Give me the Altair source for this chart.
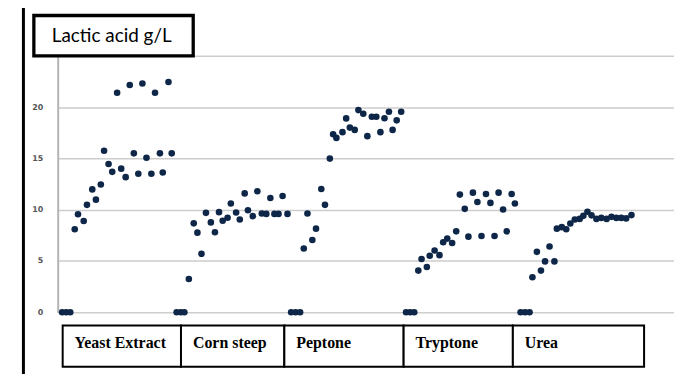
import altair as alt
import pandas as pd

# ---- data (x = sample position, y = lactic acid g/L) ----
groups = ["Yeast Extract", "Corn steep", "Peptone", "Tryptone", "Urea"]

yeast_pos = [0.1, 1.1, 2.1, 3.2, 4.0, 5.4, 6.2, 7.5, 8.4, 9.6, 10.4, 11.5, 12.4, 13.6,
             14.6, 15.7, 16.7, 17.7, 18.8, 19.8, 20.8, 22.0, 22.9, 24.1, 24.8, 26.2, 27.0]
yeast_val = [0, 0, 0, 8.1, 9.56, 8.89, 10.47, 11.98, 10.98, 12.46, 15.75, 14.46, 13.69, 21.4,
             14.0, 13.17, 22.16, 15.49, 13.5, 22.3, 15.07, 13.5, 21.4, 15.49, 13.62, 22.45, 15.49]

corn_pos = [28.2, 29.2, 30.1, 31.2, 32.4, 33.3, 34.3, 35.4, 36.6, 37.6, 38.6, 39.5, 40.7, 41.5,
            42.8, 43.7, 44.9, 45.7, 46.9, 48.0, 49.1, 50.2, 51.2, 52.2, 53.2, 54.2, 55.4]
corn_val = [0, 0, 0, 3.25, 8.67, 7.76, 5.70, 9.69, 8.76, 7.8, 9.76, 8.92, 9.21, 10.6,
            9.73, 9.05, 11.59, 9.95, 9.37, 11.79, 9.63, 9.59, 11.14, 9.59, 9.59, 11.33, 9.59]

peptone_pos = [56.3, 57.4, 58.5, 59.4, 60.3, 61.5, 62.4, 63.7, 64.6, 65.8, 66.6, 67.4, 68.9, 69.8,
               70.7, 71.9, 72.8, 74.0, 75.0, 76.1, 77.2, 78.2, 79.2, 80.3, 81.2, 82.2, 83.3]
peptone_val = [0, 0, 0, 6.21, 9.63, 7.05, 8.15, 12.01, 10.47, 14.98, 17.36, 17.0, 17.56, 18.9,
               18.0, 17.78, 19.71, 19.35, 17.17, 19.06, 19.06, 17.56, 18.91, 19.55, 17.78, 18.71, 19.55]

tryptone_pos = [84.5, 85.5, 86.5, 87.5, 88.3, 89.6, 90.3, 91.5, 92.7, 93.6, 94.6, 95.8, 96.8, 97.7,
                98.9, 99.8, 100.9, 102.0, 103.0, 104.1, 105.2, 106.2, 107.2, 108.3, 109.2, 110.4, 111.2]
tryptone_val = [0, 0, 0, 4.06, 5.19, 4.42, 5.51, 6.02, 5.57, 6.83, 7.18, 6.76, 7.89, 11.47,
                10.08, 7.37, 11.66, 10.75, 7.44, 11.53, 10.66, 7.44, 11.66, 10.02, 7.89, 11.53, 10.6]

urea_pos = [112.6, 113.7, 114.8, 115.5, 116.6, 117.6, 118.6, 119.7, 120.9, 121.5, 122.7, 123.8, 124.8,
            125.9, 127.1, 128.0, 129.0, 130.0, 131.2, 132.4, 133.7, 134.9, 136.1, 137.3, 138.5, 139.8]
urea_val = [0, 0, 0, 3.41, 5.89, 4.06, 4.96, 6.41, 4.96, 8.15, 8.3, 8.1, 8.65,
            9.05, 9.1, 9.4, 9.8, 9.45, 9.1, 9.2, 9.1, 9.3, 9.2, 9.2, 9.15, 9.47]

y_ticks = [0, 5, 10, 15, 20, 25]

# table below the plot: cell boundaries in sample-position units
cell_start = [0.24, 29.27, 54.63, 83.9, 110.7]
cell_end = [29.27, 54.63, 83.9, 110.7, 142.9]

title_text = "Lactic acid g/L"

# ---- build tables ----
rows = []
for g, ps, vs in zip(groups,
                     [yeast_pos, corn_pos, peptone_pos, tryptone_pos, urea_pos],
                     [yeast_val, corn_val, peptone_val, tryptone_val, urea_val]):
    for p, v in zip(ps, vs):
        rows.append({"group": g, "pos": p, "lactic": v})
df = pd.DataFrame(rows)

table_df = pd.DataFrame({"label": groups, "x": cell_start, "x2": cell_end,
                         "y": [-1.3] * 5, "y2": [-5.3] * 5, "ty": [-2.95] * 5})
box_df = pd.DataFrame({"x": [-6.83], "x2": [32.27], "y": [28.93], "y2": [25.0],
                       "tx": [-2.45], "ty": [26.94], "label": [title_text]})
edge_df = pd.DataFrame({"x": [-9.39], "y": [31.0], "y2": [-8.0]})

xscale = alt.Scale(domain=[-0.98, 150.24], nice=False, zero=False)
yscale = alt.Scale(domain=[0, 25], nice=False, zero=False)

yaxis = alt.Axis(values=y_ticks, title=None, ticks=False,
                 labelExpr="datum.value == 25 ? '' : datum.label",
                 labelPadding=15, labelFont="DejaVu Sans", labelFontSize=8,
                 labelFontWeight="bold", labelColor="#555555",
                 domain=True, domainColor="#b4b4b4", domainWidth=2,
                 grid=True, gridColor="#cdcdcd", gridWidth=1.5)


def X(field):
    return alt.X(field, scale=xscale, axis=None)


def Y(field):
    return alt.Y(field, scale=yscale, axis=yaxis)


points = alt.Chart(df).mark_circle(size=44, color="#0e2748", opacity=1).encode(
    x=X("pos:Q"), y=Y("lactic:Q"),
)

cells = alt.Chart(table_df).mark_rect(fill="white", stroke="black", strokeWidth=2).encode(
    x=X("x:Q"), x2="x2:Q", y=Y("y:Q"), y2="y2:Q",
)

cell_text = alt.Chart(table_df).mark_text(
    align="left", baseline="middle", dx=12, font="Liberation Serif",
    fontSize=16, fontWeight="bold", color="black",
).encode(x=X("x:Q"), y=Y("ty:Q"), text="label:N")

edge = alt.Chart(edge_df).mark_rule(color="black", strokeWidth=3).encode(
    x=X("x:Q"), y=Y("y:Q"), y2="y2:Q",
)

box = alt.Chart(box_df).mark_rect(fill="white", stroke="black", strokeWidth=3.3).encode(
    x=X("x:Q"), x2="x2:Q", y=Y("y:Q"), y2="y2:Q",
)

box_text = alt.Chart(box_df).mark_text(
    align="left", baseline="middle", font="Lato", fontSize=19, color="black",
).encode(x=X("tx:Q"), y=Y("ty:Q"), text="label:N")

chart = alt.layer(points, cells, cell_text, edge, box, box_text).properties(
    width=620, height=258,
    autosize=alt.AutoSizeParams(type="none"),
    padding={"left": 50, "top": 47, "right": 0, "bottom": 61},
    background="white",
).configure_view(stroke=None)

chart.save("out.html", embed_options={"renderer": "svg", "actions": False})
